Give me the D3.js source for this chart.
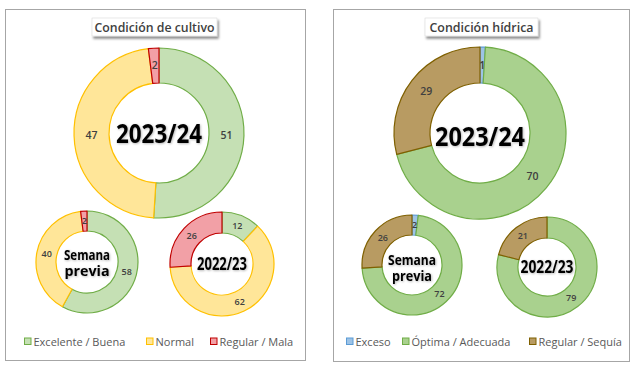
<!DOCTYPE html>
<html>
<head>
<meta charset="utf-8">
<script src="https://cdn.jsdelivr.net/npm/d3@7"></script>
<style>
  body { margin: 0; background: #fff; }
  svg { display: block; }
</style>
</head>
<body>
<svg id="chart" width="640" height="369"></svg>
<script>
// Condición de cultivo (%)
const cultivoCategories = ['Excelente / Buena', 'Normal', 'Regular / Mala'];
const cultivoActual = [51, 47, 2];
const cultivoPrevia = [58, 40, 2];
const cultivoAnterior = [12, 62, 26];

// Condición hídrica (%)
const hidricaCategories = ['Exceso', 'Óptima / Adecuada', 'Regular / Sequía'];
const hidricaActual = [1, 70, 29];
const hidricaPrevia = [2, 72, 26];
const hidricaAnterior = [0, 79, 21];

const centerLabels = { actual: ['2023/24'], previa: ['Semana', 'previa'], anterior: ['2022/23'] };

const svg = d3.select('#chart');

// drop shadow for title boxes
const defs = svg.append('defs');
defs.append('filter').attr('id', 'shadow').attr('x', '-20%').attr('y', '-40%').attr('width', '150%').attr('height', '200%')
    .append('feDropShadow').attr('dx', 1.5).attr('dy', 2.5).attr('stdDeviation', 1.2)
    .attr('flood-color', '#000').attr('flood-opacity', 0.45);
// soft glow behind the center labels
defs.append('filter').attr('id', 'glow').attr('x', '-20%').attr('y', '-40%').attr('width', '140%').attr('height', '180%')
    .append('feDropShadow').attr('dx', 0.8).attr('dy', 0.8).attr('stdDeviation', 0.8)
    .attr('flood-color', '#000').attr('flood-opacity', 0.3);

const cultivoFill = d3.scaleOrdinal().domain(cultivoCategories).range(['#c5e0b4', '#ffe699', '#f2a0a6']);
const cultivoStroke = d3.scaleOrdinal().domain(cultivoCategories).range(['#70ad47', '#ffc000', '#c00000']);
const hidricaFill = d3.scaleOrdinal().domain(hidricaCategories).range(['#9dc3e6', '#a9d18e', '#b89b62']);
const hidricaStroke = d3.scaleOrdinal().domain(hidricaCategories).range(['#5b9bd5', '#70ad47', '#7f6000']);

const pie = d3.pie().sort(null).value(d => d.value);

function drawDonut(cx, cy, rOuter, rInner, categories, values, fill, stroke, opts) {
    const g = svg.append('g').attr('transform', `translate(${cx},${cy})`);
    const data = categories.map((c, i) => ({ cat: c, value: values[i] }));
    const arcs = pie(data);
    const arc = d3.arc().innerRadius(rInner).outerRadius(rOuter);

    g.selectAll('path').data(arcs).enter().append('path')
        .attr('d', arc)
        .attr('fill', d => fill(d.data.cat))
        .attr('stroke', d => stroke(d.data.cat))
        .attr('stroke-width', 1.2)
        .attr('stroke-linejoin', 'round');

    g.selectAll('text.val').data(arcs.filter(d => d.data.value > 0)).enter().append('text')
        .attr('class', 'val')
        .attr('transform', d => `translate(${arc.centroid(d)})`)
        .attr('text-anchor', 'middle')
        .attr('dy', '0.35em')
        .style('font-family', '"Open Sans", "Noto Sans", sans-serif')
        .style('font-size', opts.valueSize + 'px')
        .style('font-weight', 600)
        .style('fill', '#404040')
        .text(d => d.data.value);

    // center label (baseline given in page coords)
    opts.lines.forEach((line, i) => {
        g.append('text')
            .attr('x', 0)
            .attr('y', opts.baseline - cy + i * opts.lineGap)
            .attr('text-anchor', 'middle')
            .attr('textLength', opts.widths[i])
            .attr('lengthAdjust', 'spacingAndGlyphs')
            .attr('filter', 'url(#glow)')
            .style('font-family', '"Open Sans", "Noto Sans", sans-serif')
            .style('font-weight', 'bold')
            .style('font-size', opts.centerSize + 'px')
            .style('fill', '#000')
            .text(line);
    });
}

function drawPanel(x0, x1, y0, y1, title, titleBox, titleWidth) {
    svg.append('rect')
        .attr('x', x0 + 0.5).attr('y', y0 + 0.5)
        .attr('width', x1 - x0).attr('height', y1 - y0)
        .attr('fill', '#fff').attr('stroke', '#a6a6a6').attr('stroke-width', 1);
    svg.append('rect')
        .attr('x', titleBox[0]).attr('y', titleBox[1])
        .attr('width', titleBox[2]).attr('height', titleBox[3])
        .attr('fill', '#fff').attr('stroke', '#d9d9d9').attr('stroke-width', 0.6)
        .attr('filter', 'url(#shadow)');
    svg.append('text')
        .attr('x', titleBox[0] + titleBox[2] / 2)
        .attr('y', titleBox[1] + 13.5)
        .attr('text-anchor', 'middle')
        .attr('textLength', titleWidth)
        .attr('lengthAdjust', 'spacingAndGlyphs')
        .style('font-family', '"Open Sans", "Noto Sans", sans-serif')
        .style('font-weight', 600)
        .style('font-size', '13px')
        .style('fill', '#404040')
        .text(title);
}

function drawLegend(categories, fill, stroke, xs, y) {
    const g = svg.append('g');
    categories.forEach((c, i) => {
        g.append('rect')
            .attr('x', xs[i] + 0.5).attr('y', y - 3.5)
            .attr('width', 6.5).attr('height', 6.5)
            .attr('fill', fill(c)).attr('stroke', stroke(c)).attr('stroke-width', 1);
        g.append('text')
            .attr('x', xs[i] + 9.5).attr('y', y + 4)
            .style('font-family', '"Open Sans", "Noto Sans", sans-serif')
            .style('font-size', '11px')
            .style('fill', '#595959')
            .text(c);
    });
}

// Left panel: Condición de cultivo
drawPanel(5, 305, 9, 360, 'Condición de cultivo', [92, 18, 125, 18], 120);
drawDonut(159, 133, 85, 50, cultivoCategories, cultivoActual, cultivoFill, cultivoStroke,
    { valueSize: 10.5, lines: centerLabels.actual, widths: [86], centerSize: 26, baseline: 143, lineGap: 0 });
drawDonut(87, 262, 51, 31, cultivoCategories, cultivoPrevia, cultivoFill, cultivoStroke,
    { valueSize: 9, lines: centerLabels.previa, widths: [46, 45], centerSize: 13.5, baseline: 260, lineGap: 15.5 });
drawDonut(222, 264, 52, 31, cultivoCategories, cultivoAnterior, cultivoFill, cultivoStroke,
    { valueSize: 9, lines: centerLabels.anterior, widths: [50], centerSize: 17, baseline: 270, lineGap: 0 });
drawLegend(cultivoCategories, cultivoFill, cultivoStroke, [24, 146, 210], 341.5);

// Right panel: Condición hídrica
drawPanel(333, 629, 9, 361, 'Condición hídrica', [425, 18, 113, 18], 104);
drawDonut(480, 133, 86, 50, hidricaCategories, hidricaActual, hidricaFill, hidricaStroke,
    { valueSize: 10.5, lines: centerLabels.actual, widths: [90], centerSize: 26, baseline: 146, lineGap: 0 });
drawDonut(412, 265, 50, 30, hidricaCategories, hidricaPrevia, hidricaFill, hidricaStroke,
    { valueSize: 9, lines: centerLabels.previa, widths: [48, 40], centerSize: 14.5, baseline: 264.5, lineGap: 16 });
drawDonut(547, 267, 50, 29, hidricaCategories, hidricaAnterior, hidricaFill, hidricaStroke,
    { valueSize: 9, lines: centerLabels.anterior, widths: [53], centerSize: 17, baseline: 273, lineGap: 0 });
drawLegend(hidricaCategories, hidricaFill, hidricaStroke, [346, 402, 529], 341.5);
</script>
</body>
</html>
